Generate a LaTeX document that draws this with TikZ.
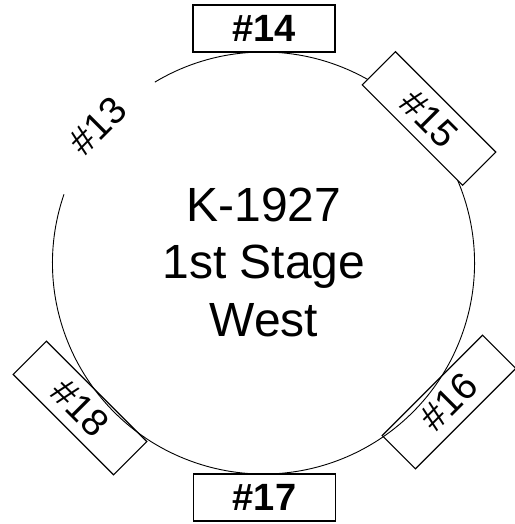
\documentclass[tikz,border=0pt]{standalone}
\usepackage{fontspec}
\setmainfont{Liberation Sans}
\begin{document}
\begin{tikzpicture}[x=1pt,y=1pt,
  tag/.style={draw=black, line width=1.1pt, minimum width=142pt, minimum height=47pt, inner sep=0pt,
    font=\fontsize{38}{40}\selectfont},
  boldtag/.style={tag, font=\fontsize{38}{40}\selectfont\bfseries},
  title/.style={inner sep=0pt, anchor=base, font=\fontsize{48}{56}\selectfont}]
\useasboundingbox (0,0) rectangle (514,524);
\coordinate (c) at (263.5,261);
\draw[line width=0.9pt] (c) ++(161:211) arc[start angle=161, end angle=481, radius=211];
\node[boldtag] (n14) at (264,495.5) {\#14};
\node[tag, fill=white, rotate=-45] (n15) at (429,405.5) {\#15};
\node[tag, rotate=45] (n16) at (449,122) {\#16};
\node[boldtag] (n17) at (264.5,26.5) {\#17};
\node[tag, rotate=-45] (n18) at (80,116) {\#18};
\node[inner sep=0pt, rotate=45, font=\fontsize{38}{40}\selectfont] (n13) at (97.5,398) {\#13};
\node[title] (t1) at (264,302.3) {K-1927};
\node[title] (t2) at (264,245.7) {1st Stage};
\node[title] (t3) at (264,187.3) {West};
\end{tikzpicture}
\end{document}
